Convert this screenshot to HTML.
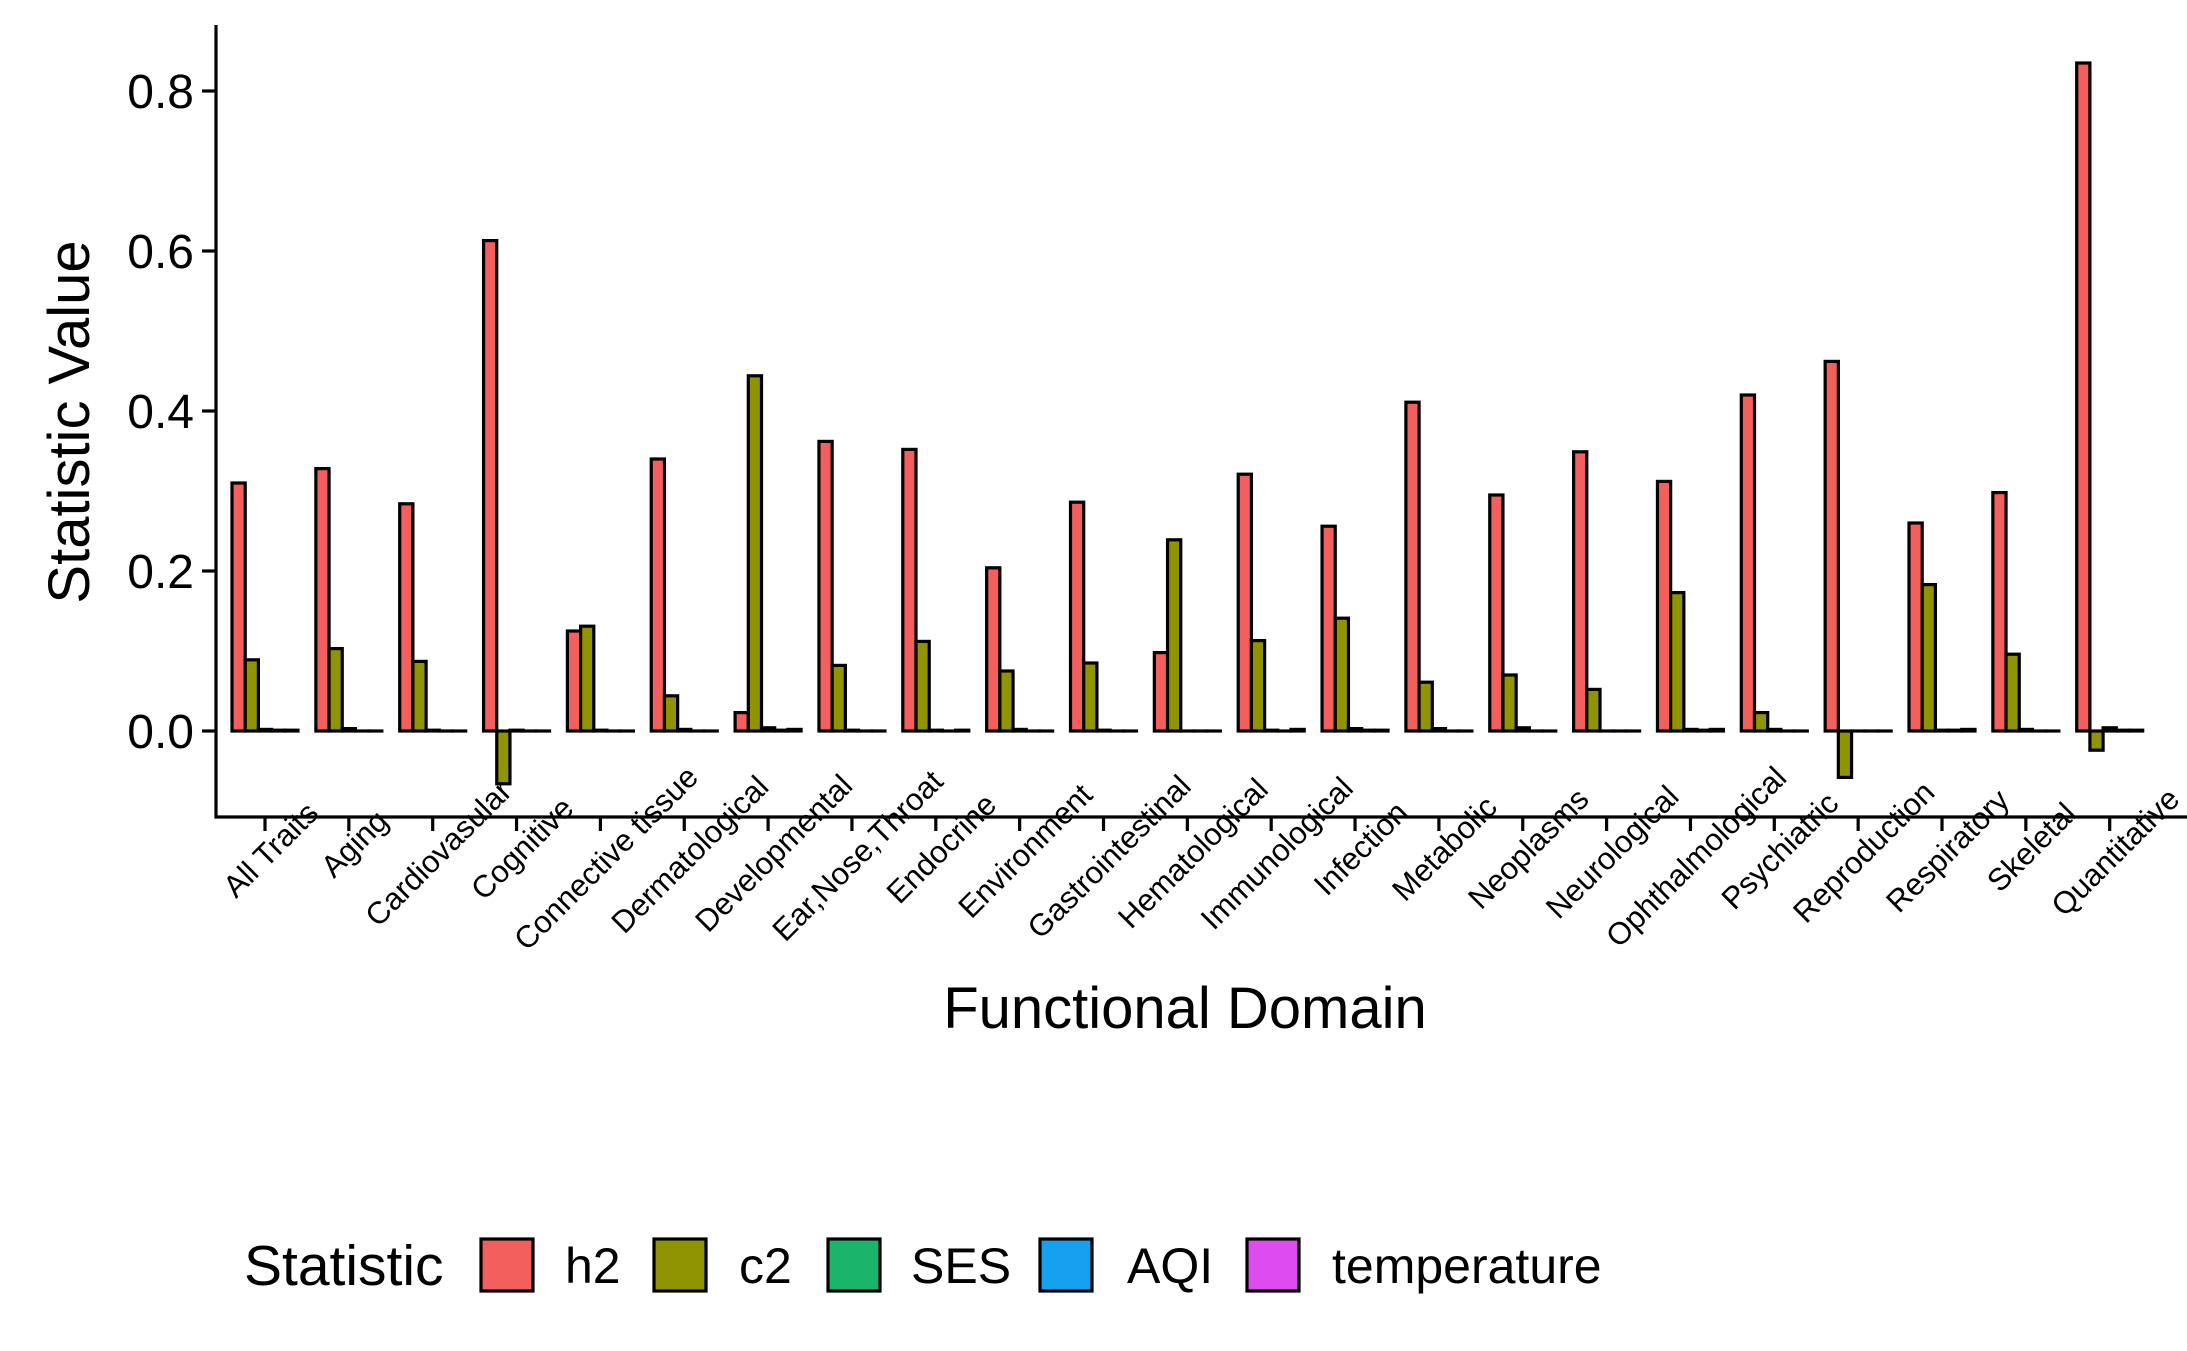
<!DOCTYPE html>
<html><head><meta charset="utf-8"><style>
html,body{margin:0;padding:0;background:#fff;}
svg{display:block;font-family:"Liberation Sans",Arial,sans-serif;}
</style></head><body>
<svg id="chart" width="2187" height="1351" viewBox="0 0 2187 1351" xmlns="http://www.w3.org/2000/svg">
<g id="bars"></g>
<g id="axes"></g>
<text transform="translate(89,422) rotate(-90)" text-anchor="middle" font-size="58">Statistic Value</text>
<text x="1185" y="1028" text-anchor="middle" font-size="58">Functional Domain</text>
<g id="legend">
<text x="244" y="1285" font-size="57">Statistic</text>
</g>
</svg>
<script>
const categories = ["All Traits","Aging","Cardiovasular","Cognitive","Connective tissue","Dermatological","Developmental","Ear,Nose,Throat","Endocrine","Environment","Gastrointestinal","Hematological","Immunological","Infection","Metabolic","Neoplasms","Neurological","Ophthalmological","Psychiatric","Reproduction","Respiratory","Skeletal","Quantitative"];
const seriesNames = ["h2","c2","SES","AQI","temperature"];
const h2 = [0.310,0.328,0.284,0.613,0.125,0.340,0.023,0.362,0.352,0.204,0.286,0.098,0.321,0.256,0.411,0.295,0.349,0.312,0.420,0.462,0.260,0.298,0.835];
const c2 = [0.089,0.103,0.087,-0.066,0.131,0.044,0.444,0.082,0.112,0.075,0.085,0.239,0.113,0.141,0.061,0.070,0.052,0.173,0.023,-0.058,0.183,0.096,-0.024];
const ses = [0.002,0.003,0.001,0.001,0.001,0.002,0.004,0.001,0.001,0.002,0.001,0.000,0.001,0.003,0.003,0.004,0.000,0.002,0.002,0.000,0.001,0.002,0.004];
const aqi = [0.001,0.000,0.000,0.000,0.000,0.000,0.001,0.000,0.000,0.000,0.000,0.000,0.000,0.001,0.000,0.000,0.000,0.001,0.000,0.000,0.001,0.000,0.001];
const temp = [0.001,0.000,0.000,0.000,0.000,0.000,0.002,0.000,0.001,0.000,0.000,0.000,0.002,0.001,0.000,0.000,0.000,0.002,0.000,0.000,0.002,0.000,0.001];
const yTicks = [0.0,0.2,0.4,0.6,0.8];
const yTickLabels = ["0.0","0.2","0.4","0.6","0.8"];

const NS="http://www.w3.org/2000/svg";
const colors=["#F25F5C","#8F9400","#1AB46B","#17A0F0","#DE4BEE"];
const axisX=216, axisBottom=817, axisTop=25;
const x0=265, step=83.85;
function xPos(i){return x0+i*step;}
function yPos(v){return 731 - v*800;}
function mk(tag,attrs,parent){const e=document.createElementNS(NS,tag);for(const k in attrs)e.setAttribute(k,attrs[k]);parent.appendChild(e);return e;}

const bars=document.getElementById('bars');
const allSeries=[h2,c2,ses,aqi,temp];
const bw=13.2;
allSeries.forEach((s,si)=>{
  s.forEach((v,i)=>{
    const left=xPos(i)-2.5*bw+si*bw;
    const top=Math.min(yPos(v),yPos(0)), h=Math.abs(yPos(v)-yPos(0));
    const r=mk('rect',{x:left,y:top,width:bw,height:Math.max(h,0.01),fill:colors[si],stroke:'#000','stroke-width':3.2},bars);
    
    
  });
});

const axes=document.getElementById('axes');
let l=mk('line',{x1:axisX,y1:axisTop,x2:axisX,y2:axisBottom+1.5,stroke:'#000','stroke-width':3.2},axes);


l=mk('line',{x1:axisX-1.5,y1:axisBottom,x2:2187,y2:axisBottom,stroke:'#000','stroke-width':3.2},axes);


yTicks.forEach((v,i)=>{
  const t=mk('line',{x1:axisX-14,y1:yPos(v),x2:axisX,y2:yPos(v),stroke:'#000','stroke-width':3.2},axes);
  
  
  const tx=mk('text',{x:axisX-22,y:yPos(v)+17,'text-anchor':'end','font-size':48},axes);
  tx.textContent=yTickLabels[i];
  
  
});
categories.forEach((c,i)=>{
  const x=xPos(i);
  const t=mk('line',{x1:x,y1:axisBottom,x2:x,y2:axisBottom+14,stroke:'#000','stroke-width':3.2},axes);
  
  
  const len=c.length;
  const cx=x+6, cy=838+len*1.2;
  const tx=mk('text',{x:0,y:10,'text-anchor':'middle','font-size':31,transform:`translate(${cx},${cy}) rotate(-45)`},axes);
  tx.textContent=c;
  
  
});

const legend=document.getElementById('legend');
const boxX=[481,654,828,1040,1247];
const labX=[565,739,911,1127,1332];
seriesNames.forEach((n,i)=>{
  const r=mk('rect',{x:boxX[i],y:1239,width:52,height:52,fill:colors[i],stroke:'#000','stroke-width':3.2},legend);
  
  
  const t=mk('text',{x:labX[i],y:1283,'font-size':50},legend);
  t.textContent=n;
  
  
});
</script>
</body></html>
